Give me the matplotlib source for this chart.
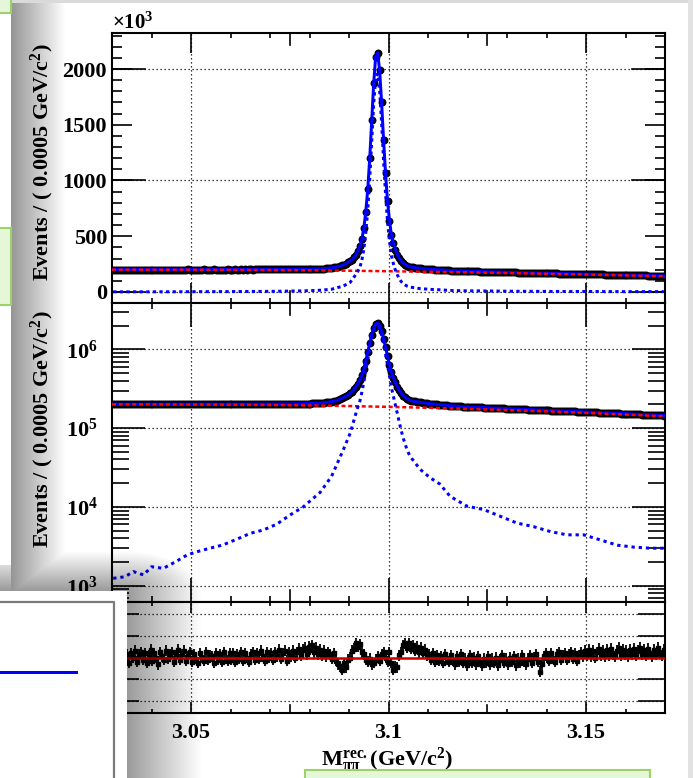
import matplotlib
matplotlib.use("Agg")
import matplotlib.pyplot as plt
from matplotlib.patches import Rectangle
from matplotlib.ticker import MultipleLocator, LogLocator, NullFormatter, FuncFormatter
import numpy as np

plt.rcParams["font.family"] = ["Liberation Serif", "DejaVu Serif"]
plt.rcParams["font.weight"] = "bold"
plt.rcParams["mathtext.fontset"] = "custom"
plt.rcParams["mathtext.rm"] = "Liberation Serif:bold"
plt.rcParams["mathtext.it"] = "Liberation Serif:italic:bold"
plt.rcParams["mathtext.bf"] = "Liberation Serif:bold"
plt.rcParams["axes.linewidth"] = 1.5

W, H, DPI = 693, 778, 100

###================ Data ========================================###

MASS_LO, MASS_HI, BIN_WIDTH = 3.03, 3.17, 0.0005
mass = MASS_LO + BIN_WIDTH * (np.arange(280) + 0.5)

# events per 0.5 MeV bin, in units of 1e3 (10 bins per row)
counts_k = [
    201.3, 201.0, 201.5, 201.2, 200.9, 201.4, 201.1, 201.3, 200.8, 201.2,
    201.4, 201.0, 201.2, 201.5, 200.9, 201.1, 201.3, 201.0, 201.4, 201.2,
    201.1, 201.3, 200.9, 201.2, 201.5, 201.0, 201.2, 201.4, 200.9, 201.3,
    201.2, 201.5, 201.1, 201.0, 201.4, 201.3, 200.9, 201.2, 201.6, 201.1,
    201.4, 201.2, 201.0, 201.5, 201.3, 201.1, 201.6, 201.2, 201.0, 201.4,
    201.3, 201.6, 201.1, 201.4, 201.2, 201.5, 201.3, 201.0, 201.6, 201.4,
    201.5, 201.3, 201.7, 201.4, 201.2, 201.6, 201.5, 201.8, 201.3, 201.6,
    201.7, 201.5, 201.9, 201.6, 201.8, 202.0, 201.7, 201.9, 202.1, 201.8,
    202.0, 202.2, 202.1, 202.4, 202.3, 202.6, 202.5, 202.8, 202.7, 203.0,
    203.1, 203.3, 203.4, 203.6, 203.8, 204.0, 204.2, 204.4, 204.6, 204.8,
    205.0, 205.4, 205.9, 206.6, 207.2, 208.1, 209.1, 210.3, 211.7, 213.3,
    215.1, 217.2, 220.0, 223.4, 227.7, 232.9, 239.0, 246.3, 254.7, 264.5,
    276.0, 291.0, 310.0, 335.0, 368.0, 410.0, 473.0, 570.0, 720.0, 925.0,
    1200.0, 1540.0, 1870.0, 2110.0, 2145.0, 1990.0, 1705.0, 1365.0, 1065.0, 815.0,
    640.0, 510.0, 437.0, 380.0, 336.0, 301.0, 276.0, 258.0, 246.0, 236.0,
    226.5, 223.3, 220.5, 217.7, 215.4, 213.2, 211.4, 209.7, 208.0, 206.5,
    205.0, 203.6, 202.3, 201.2, 200.0, 198.8, 197.7, 196.8, 195.8, 194.8,
    193.2, 192.1, 191.3, 190.4, 189.6, 188.9, 188.1, 187.3, 186.6, 186.0,
    185.6, 185.2, 184.8, 184.4, 184.0, 183.6, 183.2, 182.8, 182.4, 182.0,
    181.6, 181.1, 180.6, 180.1, 179.6, 179.1, 178.6, 178.1, 177.7, 177.2,
    176.6, 176.1, 175.7, 175.1, 174.6, 174.2, 173.8, 173.3, 172.9, 172.5,
    172.1, 171.8, 171.3, 170.9, 170.5, 170.0, 169.6, 169.2, 168.7, 168.3,
    167.9, 167.5, 167.1, 166.7, 166.3, 165.8, 165.5, 165.0, 164.7, 164.2,
    163.9, 163.5, 163.2, 162.8, 162.5, 162.1, 161.8, 161.4, 161.1, 160.7,
    160.3, 159.8, 159.3, 158.9, 158.5, 158.0, 157.6, 157.2, 156.8, 156.4,
    156.0, 155.6, 155.1, 154.6, 154.3, 153.8, 153.4, 152.9, 152.6, 152.2,
    151.7, 151.3, 151.0, 150.5, 150.1, 149.7, 149.4, 149.0, 148.5, 148.1,
    147.8, 147.4, 147.0, 146.6, 146.3, 145.9, 145.5, 145.1, 144.8, 144.4,
]

# residual panel, same binning
pull = [
    0.4, -0.3, 0.6, 0.0, -0.4, 0.5, -0.1, 0.3, -0.5, 0.4,
    0.0, 0.6, -0.4, 0.3, 0.5, -0.2, 0.4, -0.5, 0.2, 0.7,
    -0.3, 0.4, 0.0, -0.6, 0.5, 0.1, -0.2, 0.6, -0.1, 0.3,
    0.5, -0.4, 0.2, 0.7, -0.2, 0.3, 0.6, -0.3, 0.1, 0.5,
    -0.4, 0.3, -0.1, -0.5, 0.4, 0.0, -0.3, 0.5, -0.2, 0.2,
    0.1, -0.5, 0.4, -0.2, 0.3, -0.4, 0.5, -0.1, -0.3, 0.4,
    -0.2, 0.4, -0.4, 0.3, -0.1, 0.5, -0.3, 0.4, 0.0, -0.4,
    0.3, 0.5, -0.2, 0.4, -0.1, 0.6, 0.1, -0.3, 0.5, 0.0,
    0.4, -0.2, 0.5, 0.1, 0.7, -0.1, 0.4, 0.6, -0.3, 0.5,
    0.1, 0.6, 0.0, 0.5, 0.8, 0.2, 0.7, 0.9, 0.3, 1.0,
    0.7, 1.1, 0.5, 0.9, 0.3, 0.7, 0.2, 0.6, 0.1, 0.5,
    0.3, -0.1, 0.4, -0.3, -0.6, -0.8, -1.1, -0.5, -0.9, -0.2,
    0.0, 0.6, 0.8, 1.3, 1.0, 1.2, 0.5, 0.3, -0.2, -0.4,
    -0.1, -0.6, -0.5, -0.2, 0.1, -0.3, 0.3, 0.5, 0.0, -0.4,
    0.5, -0.5, -1.1, -0.8, -0.9, 0.2, 0.5, 1.1, 1.3, 0.9,
    1.3, 0.8, 1.1, 0.6, 1.0, 0.5, 0.9, 0.4, 0.7, 0.2,
    0.3, -0.2, 0.4, -0.4, 0.2, -0.3, 0.1, -0.5, 0.3, -0.2,
    -0.4, 0.2, -0.3, -0.6, 0.1, -0.4, 0.3, -0.5, -0.1, -0.7,
    -0.3, 0.2, -0.5, 0.0, -0.6, 0.1, -0.4, -0.7, -0.1, -0.5,
    0.1, -0.6, -0.1, -0.5, 0.0, -0.7, -0.2, 0.2, -0.5, -0.1,
    -0.6, 0.0, -0.4, 0.1, -0.7, -0.1, -0.5, 0.2, -0.4, -0.6,
    -0.1, 0.2, -0.5, 0.0, 0.3, -0.4, -1.3, -0.6, 0.1, 0.4,
    0.0, -0.3, 0.4, -0.1, -0.4, 0.3, 0.5, -0.2, 0.2, 0.4,
    -0.2, 0.3, 0.5, -0.1, 0.4, -0.3, 0.2, 0.5, 0.1, 0.6,
    0.2, 0.7, 0.1, 0.6, 0.0, 0.5, 0.8, 0.2, 0.6, 0.1,
    0.7, 0.2, 0.8, 0.3, 0.1, 0.6, 0.9, 0.2, 0.7, 0.3,
    0.6, 0.1, 0.7, 0.3, 0.8, 0.2, 0.6, 0.9, 0.3, 0.7,
    0.2, 0.8, 0.4, 0.1, 0.7, 0.3, 0.9, 0.4, 0.2, 0.7,
]

# background component (red dashed), 1e3 events per bin
bkg_mass = [3.03, 3.04, 3.05, 3.06, 3.07, 3.08, 3.09, 3.10,
            3.11, 3.12, 3.13, 3.14, 3.15, 3.16, 3.17]
bkg_k = [200.0, 199.5, 199.0, 198.0, 196.5, 194.0, 190.5, 186.0,
         181.0, 175.5, 169.5, 163.0, 156.0, 148.5, 141.0]

# signal component (blue dotted), 1e3 events per bin
sig_mass = [3.0303, 3.0333, 3.0354, 3.0380, 3.0400, 3.0430, 3.0460, 3.0490,
            3.0514, 3.0548, 3.0580, 3.0616, 3.0650, 3.0683, 3.0717, 3.0750,
            3.0784, 3.0827, 3.0856, 3.0886, 3.0903, 3.0920, 3.09275, 3.09325,
            3.09375, 3.09425, 3.09475, 3.09525, 3.09575, 3.09625, 3.09675,
            3.09725, 3.09775, 3.09825, 3.09875, 3.09925, 3.09975, 3.10025,
            3.10075, 3.10125, 3.10175, 3.10225, 3.10275, 3.10325, 3.10375,
            3.10425, 3.10475, 3.1055, 3.1080, 3.1105, 3.1130, 3.1156, 3.1199,
            3.1241, 3.1283, 3.1325, 3.1367, 3.1410, 3.1452, 3.1494, 3.1537,
            3.1579, 3.1620, 3.1663, 3.1697]
sig_k = [1.24, 1.30, 1.51, 1.37, 1.74, 1.66, 2.00, 2.45,
         2.69, 2.99, 3.28, 3.89, 4.62, 5.09, 6.03, 7.85,
         10.0, 15.3, 24.5, 53.7, 86.0, 170.0, 220.0, 285.0,
         382.0, 532.0, 737.0, 1012.0, 1352.0, 1682.0, 1922.0,
         1958.0, 1804.0, 1520.0, 1180.0, 880.0, 630.0, 455.0,
         325.0, 252.0, 195.0, 152.0, 117.0, 92.0, 74.0,
         62.0, 52.0, 43.6, 30.0, 23.5, 19.5, 13.6, 10.2,
         9.25, 7.6, 6.24, 5.62, 4.86, 4.42, 4.42, 3.80,
         3.27, 3.09, 2.99, 2.99]

x_tick_values = [3.05, 3.1, 3.15]
lin_grid = [0, 1000, 2000]
pull_grid = [-4, -2, 0, 2, 4]

###================ Plot helper functions =================###

def pt(pixels):
    """pixels -> points"""
    return pixels * 72 / DPI


def rect(left, top, right, bottom):
    return [left / W, 1 - bottom / H, (right - left) / W, (bottom - top) / H]


def extra_ticks(ax, values, length_px, axis):
    """ROOT style intermediate ticks on both sides of an axis"""
    box = ax.get_position()
    if axis == "x":
        f = length_px / (box.height * H)
        tr = ax.get_xaxis_transform()
        for v in values:
            ax.plot([v, v], [0, f], transform=tr, color="k", lw=1.2)
            ax.plot([v, v], [1 - f, 1], transform=tr, color="k", lw=1.2)
    else:
        f = length_px / (box.width * W)
        tr = ax.get_yaxis_transform()
        for v in values:
            ax.plot([0, f], [v, v], transform=tr, color="k", lw=1.2)
            ax.plot([1 - f, 1], [v, v], transform=tr, color="k", lw=1.2)


GRID = dict(color="k", lw=0.9, ls=(0, (1, 2.2)))
BLUE, RED = "#0000ff", "#ff0000"
TICK_FS = 16


def style_x(ax, major_px, medium_px, minor_px):
    ax.xaxis.set_major_locator(MultipleLocator(0.05))
    ax.xaxis.set_minor_locator(MultipleLocator(0.01))
    ax.tick_params(which="both", direction="in", top=True, right=True, width=1.2)
    ax.tick_params(axis="x", which="major", length=pt(major_px))
    ax.tick_params(axis="x", which="minor", length=pt(minor_px))
    extra_ticks(ax, [3.075, 3.125], medium_px, "x")
    for x in x_tick_values:
        ax.axvline(x, zorder=0.5, **GRID)


fig = plt.figure(figsize=(W / DPI, H / DPI), dpi=DPI)
ax_lin = fig.add_axes(rect(112, 33, 665, 303))
ax_log = fig.add_axes(rect(112, 303, 665, 602))
ax_pull = fig.add_axes(rect(112, 602, 665, 713))

# ---- linear panel ----
ax_lin.plot(mass, counts_k, "o", color="k", ms=pt(6.5), zorder=2)
ax_lin.plot(mass, counts_k, color=BLUE, lw=pt(3), zorder=3)
ax_lin.plot(bkg_mass, bkg_k, color=RED, lw=pt(2.5), ls=(0, (1.6, 1.1)), zorder=4)
ax_lin.plot(sig_mass, sig_k, color=BLUE, lw=pt(3), ls=(0, (1.1, 1.1)), zorder=4)
for y in lin_grid:
    ax_lin.axhline(y, zorder=0.5, **GRID)
style_x(ax_lin, 20, 12, 5)
ax_lin.yaxis.set_major_locator(MultipleLocator(500))
ax_lin.yaxis.set_minor_locator(MultipleLocator(100))
ax_lin.tick_params(axis="y", which="major", length=pt(20), labelsize=TICK_FS, pad=pt(5))
ax_lin.tick_params(axis="y", which="minor", length=pt(10))
extra_ticks(ax_lin, lin_grid, 33, "y")
ax_lin.tick_params(labelbottom=False)
ax_lin.set_xlim(MASS_LO, MASS_HI)
ax_lin.set_ylim(-99, 2323)

# ---- log panel ----
counts = np.array(counts_k) * 1e3
ax_log.plot(mass, counts, "o", color="k", ms=pt(6.5), zorder=2)
ax_log.plot(mass, counts, color=BLUE, lw=pt(3), zorder=3)
ax_log.plot(bkg_mass, np.array(bkg_k) * 1e3, color=RED, lw=pt(2.5), ls=(0, (1.6, 1.1)), zorder=4)
ax_log.plot(sig_mass, np.array(sig_k) * 1e3, color=BLUE, lw=pt(3), ls=(0, (1.1, 1.3)), zorder=4)
ax_log.set_yscale("log")
style_x(ax_log, 24, 12, 6)
ax_log.yaxis.set_major_locator(LogLocator(base=10, numticks=10))
ax_log.yaxis.set_minor_locator(LogLocator(base=10, subs=np.arange(2, 10), numticks=100))
ax_log.yaxis.set_minor_formatter(NullFormatter())
ax_log.tick_params(axis="y", which="major", length=pt(33), labelsize=TICK_FS, pad=pt(14))
ax_log.tick_params(axis="y", which="minor", length=pt(17))
ax_log.yaxis.grid(True, which="major", **GRID)
ax_log.tick_params(labelbottom=False)
ax_log.set_xlim(MASS_LO, MASS_HI)
ax_log.set_ylim(621, 3.87e6)

# ---- residual panel ----
ax_pull.errorbar(mass, pull, yerr=0.5, fmt="s", color="k", ms=pt(4),
                 elinewidth=1.3, capsize=0, zorder=2)
ax_pull.axhline(0, color="#cc0000", lw=pt(2.5), zorder=3)
for y in pull_grid:
    ax_pull.axhline(y, zorder=0.5, **GRID)
style_x(ax_pull, 11, 8, 4)
ax_pull.yaxis.set_major_locator(MultipleLocator(2))
ax_pull.tick_params(axis="y", which="major", length=pt(27), labelsize=12)
ax_pull.tick_params(axis="x", labelsize=TICK_FS, pad=pt(10))
ax_pull.xaxis.set_major_formatter(FuncFormatter(lambda v, p: "%g" % round(v, 3)))
ax_pull.set_xlim(MASS_LO, MASS_HI)
ax_pull.set_ylim(-5.05, 5.05)

# ---- texts ----
fig.text(112 / W, 1 - 34 / H, "×10$^{3}$", fontsize=15, ha="left", va="bottom")
ylab = "Events / ( 0.0005 GeV/c$^{2}$)"
fig.text(42 / W, 1 - 43 / H, ylab, rotation=90, ha="center", va="top", fontsize=16)
fig.text(42 / W, 1 - 310 / H, ylab, rotation=90, ha="center", va="top", fontsize=16)
fig.text(387 / W, 1 - 760 / H, r"M$^{\mathrm{rec.}}_{\mathrm{\pi\pi}}$(GeV/c$^{2}$)",
         ha="center", va="center", fontsize=16)

# ---- slide decorations around the picture ----
ov = fig.add_axes([0, 0, 1, 1], zorder=10)
yy, xx = np.mgrid[0:H, 0:W] + 0.5
strip = np.where(xx >= 11, np.clip(1 - (xx - 11) / 55, 0, 1), 0) * 0.42
dist = np.hypot(np.clip(xx - 127, 0, None) / 75, np.clip(591 - yy, 0, None) / 40)
glow = np.clip(1 - dist, 0, 1) * 0.40
shade = np.zeros((H, W, 4))
shade[..., 3] = np.maximum(strip, glow)
ov.imshow(shade, extent=(0, W, H, 0), interpolation="bilinear", aspect="auto", zorder=1)
ov.add_patch(Rectangle((-5, -5), 16, 570, fc="white", ec="none", zorder=2))
ov.add_patch(Rectangle((11, -5), 690, 8, fc="#dadada", ec="none", zorder=2))
ov.add_patch(Rectangle((688, -5), 10, 790, fc="#e2e2e2", ec="none", zorder=2))
green = dict(fc="#e6f6d8", ec="#9bd36a", lw=1.5, zorder=3)
ov.add_patch(Rectangle((-5, -5), 16, 18, **green))
ov.add_patch(Rectangle((-5, 228), 16, 77, **green))
ov.add_patch(Rectangle((305, 770), 345, 20, **green))
ov.add_patch(Rectangle((-5, 591), 132, 200, fc="white", ec="none", zorder=3))
ov.plot([-5, 114, 114], [602, 602, 790], color="#7a7a7a", lw=1.6, zorder=4)
ov.plot([0, 76], [672, 672], color=BLUE, lw=pt(3), zorder=4)
ov.set_xlim(0, W)
ov.set_ylim(H, 0)
ov.axis("off")

fig.savefig("out.png", dpi=DPI)
